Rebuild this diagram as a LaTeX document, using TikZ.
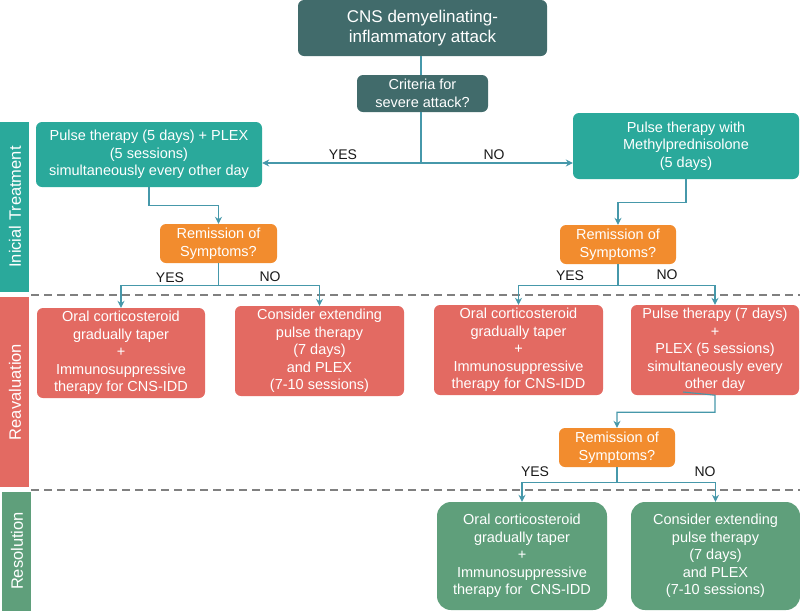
\documentclass[tikz,border=0pt]{standalone}
\usepackage{fontspec}
\setmainfont{Liberation Sans}
\usepackage{tikz}
\usepackage{xcolor}
\usetikzlibrary{arrows.meta, positioning}
\definecolor{darkslate}{RGB}{65, 107, 107}
\definecolor{tealbox}{RGB}{42, 169, 155}
\definecolor{orangebox}{RGB}{242, 140, 46}
\definecolor{redbox}{RGB}{227, 106, 98}
\definecolor{greenbox}{RGB}{95, 159, 123}
\definecolor{linkcolor}{RGB}{70, 152, 170}
\definecolor{dashgray}{RGB}{128, 128, 128}

\begin{document}
\begin{tikzpicture}[x=1pt, y=-1pt,
    box/.style={rounded corners=6pt, text=white, align=center, inner sep=0pt,
        font=\fontsize{14.5}{17.5}\selectfont},
    link/.style={draw=linkcolor, line width=1.1pt},
    arr/.style={link, -{Stealth[length=7pt, width=7pt]}},
    band/.style={text=white, font=\fontsize{16.5}{19}\selectfont, rotate=90, inner sep=0pt},
    answer/.style={font=\fontsize{14}{16}\selectfont, text=black!90}
  ]
    \useasboundingbox (0,0) rectangle (800,611);

    % side bands
    \fill[tealbox] (0,122) rectangle (29,292);
    \fill[redbox] (0,297) rectangle (29,487);
    \fill[greenbox] (2,492) rectangle (31,611);
    \node[band] at (15,207) {Inicial Treatment};
    \node[band] at (15,392) {Reavaluation};
    \node[band] at (17,551) {Resolution};
    \draw[dashgray, line width=1.6pt, dash pattern=on 8pt off 5pt] (31,295) -- (800,295);
    \draw[dashgray, line width=1.6pt, dash pattern=on 8pt off 5pt] (31,490) -- (800,490);

    % top
    \node[box, fill=darkslate, minimum width=249pt, minimum height=56pt,
        font=\fontsize{17}{20}\selectfont] (attack) at (422.5,28)
        {CNS demyelinating-\\inflammatory attack};
    \node[box, fill=darkslate, minimum width=131pt, minimum height=37pt] (severe) at (422.5,93.5)
        {Criteria for\\severe attack?};

    % inicial treatment
    \node[box, fill=tealbox, minimum width=226pt, minimum height=65pt] (plex) at (149,154.5)
        {Pulse therapy (5 days) + PLEX\\(5 sessions)\\simultaneously every other day};
    \node[box, fill=tealbox, minimum width=226pt, minimum height=66pt] (mp) at (686,146)
        {Pulse therapy with\\Methylprednisolone\\(5 days)};
    \node[box, fill=orangebox, minimum width=117pt, minimum height=39pt] (remA) at (218.5,243.5)
        {Remission of\\Symptoms?};
    \node[box, fill=orangebox, minimum width=116pt, minimum height=39pt] (remB) at (618,244.5)
        {Remission of\\Symptoms?};

    % reavaluation
    \node[box, fill=redbox, minimum width=168pt, minimum height=90pt] (oralA) at (121,353)
        {Oral corticosteroid\\gradually taper\\+\\Immunosuppressive\\therapy for CNS-IDD};
    \node[box, fill=redbox, minimum width=169pt, minimum height=90pt] (extA) at (319.5,351)
        {Consider extending\\pulse therapy\\(7 days)\\and PLEX\\(7-10 sessions)};
    \node[box, fill=redbox, minimum width=169pt, minimum height=90pt] (oralB) at (518.5,350)
        {Oral corticosteroid\\gradually taper\\+\\Immunosuppressive\\therapy for CNS-IDD};
    \node[box, fill=redbox, minimum width=168pt, minimum height=90pt] (pulseD) at (715,350)
        {Pulse therapy (7 days)\\+\\PLEX (5 sessions)\\simultaneously every\\other day};
    \node[box, fill=orangebox, minimum width=116pt, minimum height=39pt] (remC) at (617,447.5)
        {Remission of\\Symptoms?};

    % resolution
    \node[box, rounded corners=14pt, fill=greenbox, minimum width=170pt, minimum height=108pt] (oralC) at (522,556)
        {Oral corticosteroid\\gradually taper\\+\\Immunosuppressive\\therapy for\ \ CNS-IDD};
    \node[box, rounded corners=14pt, fill=greenbox, minimum width=169pt, minimum height=108pt] (extC) at (715.5,556)
        {Consider extending\\pulse therapy\\(7 days)\\and PLEX\\(7-10 sessions)};

    % connectors
    \coordinate (split) at (421,163);
    \draw[link] (attack.south -| split) -- (severe.north -| split);
    \draw[link] (severe.south -| split) -- (split);
    \draw[arr] (split) -- (plex.east |- split);
    \draw[arr] (split) -- (mp.west |- split);
    \node[answer] (yes0) at (343,155) {YES};
    \node[answer] (no0) at (494,155) {NO};

    \draw[arr] (plex.south) -- ++(0,18) -| (remA.north);
    \draw[arr] (mp.south) -- ++(0,23) -| (remB.north);

    \draw[arr] (remA.south) -- ++(0,22) -| (oralA.north);
    \draw[arr] (remA.south) -- ++(0,22) -| (extA.north);
    \node[answer] (yes1) at (170,278) {YES};
    \node[answer] (no1) at (270,277) {NO};

    \draw[arr] (remB.south) -- ++(0,21) -| (oralB.north);
    \draw[arr] (remB.south) -- ++(0,21) -| (pulseD.north);
    \node[answer] (yes2) at (570,276) {YES};
    \node[answer] (no2) at (667,275) {NO};

    \coordinate (dstart) at (683,392);
    \draw[arr] (dstart) -- (pulseD.south) -- ++(0,17) -| (remC.north);

    \draw[arr] (remC.south) -- ++(0,15) -| (oralC.north);
    \draw[arr] (remC.south) -- ++(0,15) -| (extC.north);
    \node[answer] (yes3) at (535,472) {YES};
    \node[answer] (no3) at (705,472) {NO};
\end{tikzpicture}
\end{document}
